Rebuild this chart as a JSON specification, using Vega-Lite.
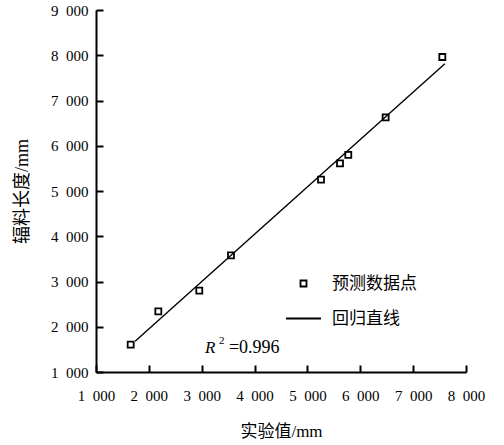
{
  "$schema": "https://vega.github.io/schema/vega-lite/v6.json",
  "width": 370,
  "height": 362,
  "autosize": {"type": "none"},
  "padding": {"left": 96, "top": 10, "right": 38, "bottom": 73},
  "background": "white",
  "config": {
    "view": {"stroke": null},
    "font": "Liberation Serif, Noto Sans CJK SC",
    "axis": {
      "grid": false,
      "domainColor": "black",
      "domainWidth": 2,
      "tickColor": "black",
      "tickWidth": 2,
      "tickSize": -7,
      "labelColor": "black",
      "labelFont": "Liberation Serif",
      "labelFontSize": 15,
      "labelFlush": false,
      "labelOverlap": false,
      "titleColor": "black",
      "titleFontWeight": "normal",
      "titleFontSize": 17,
      "titleFont": "Liberation Serif, Noto Sans CJK SC"
    },
    "legend": {
      "labelFont": "Liberation Serif, Noto Sans CJK SC",
      "labelFontSize": 17,
      "labelColor": "black",
      "padding": 0,
      "rowPadding": 8,
      "labelOffset": 10,
      "symbolStrokeWidth": 1.8,
      "symbolStrokeColor": "black"
    }
  },
  "datasets": {
    "points": [
      {"x": 1656, "y": 1603, "series": "预测数据点"},
      {"x": 2179, "y": 2340, "series": "预测数据点"},
      {"x": 2954, "y": 2800, "series": "预测数据点"},
      {"x": 3554, "y": 3577, "series": "预测数据点"},
      {"x": 5257, "y": 5250, "series": "预测数据点"},
      {"x": 5616, "y": 5610, "series": "预测数据点"},
      {"x": 5773, "y": 5800, "series": "预测数据点"},
      {"x": 6480, "y": 6627, "series": "预测数据点"},
      {"x": 7552, "y": 7961, "series": "预测数据点"}
    ],
    "fit": [
      {"x": 1740, "y": 1680},
      {"x": 7600, "y": 7810}
    ],
    "note": [
      {"x": 3060, "y": 1540, "r": "R", "sup": "2", "rest": "=0.996"}
    ]
  },
  "layer": [
    {
      "data": {"name": "fit"},
      "mark": {"type": "line", "color": "black", "strokeWidth": 1.4},
      "encoding": {
        "x": {
          "field": "x", "type": "quantitative",
          "scale": {"domain": [1000, 8000], "nice": false, "zero": false},
          "axis": {
            "title": "实验值/mm",
            "values": [1000, 2000, 3000, 4000, 5000, 6000, 7000, 8000],
            "labelExpr": "floor(datum.value/1000) + '\u2002000'",
            "labelPadding": 23,
            "titlePadding": 20
          }
        },
        "y": {
          "field": "y", "type": "quantitative",
          "scale": {"domain": [1000, 9000], "nice": false, "zero": false},
          "axis": {
            "title": "辐料长度/mm",
            "values": [1000, 2000, 3000, 4000, 5000, 6000, 7000, 8000, 9000],
            "labelExpr": "floor(datum.value/1000) + '\u2002000'",
            "labelPadding": 15,
            "titlePadding": 19,
            "titleFontSize": 18
          }
        }
      }
    },
    {
      "data": {"name": "points"},
      "mark": {"type": "point", "shape": "square", "filled": false, "color": "black", "strokeWidth": 1.8, "opacity": 1},
      "encoding": {
        "x": {"field": "x", "type": "quantitative"},
        "y": {"field": "y", "type": "quantitative"},
        "shape": {
          "field": "series", "type": "nominal",
          "scale": {"domain": ["预测数据点", "回归直线"], "range": ["square", "stroke"]},
          "legend": {"title": null, "orient": "none", "legendX": 189, "legendY": 265}
        },
        "size": {
          "field": "series", "type": "nominal",
          "scale": {"type": "ordinal", "domain": ["预测数据点", "回归直线"], "range": [36, 1225]},
          "legend": {"title": null, "orient": "none", "legendX": 189, "legendY": 265}
        }
      }
    },
    {
      "data": {"name": "note"},
      "mark": {"type": "text", "align": "left", "baseline": "middle", "fontSize": 17, "fontStyle": "italic", "font": "Liberation Serif", "color": "black"},
      "encoding": {
        "x": {"field": "x", "type": "quantitative"},
        "y": {"field": "y", "type": "quantitative"},
        "text": {"field": "r"}
      }
    },
    {
      "data": {"name": "note"},
      "mark": {"type": "text", "align": "left", "baseline": "middle", "fontSize": 11, "dx": 14, "dy": -7, "font": "Liberation Serif", "color": "black"},
      "encoding": {
        "x": {"field": "x", "type": "quantitative"},
        "y": {"field": "y", "type": "quantitative"},
        "text": {"field": "sup"}
      }
    },
    {
      "data": {"name": "note"},
      "mark": {"type": "text", "align": "left", "baseline": "middle", "fontSize": 18, "dx": 24, "font": "Liberation Serif", "color": "black"},
      "encoding": {
        "x": {"field": "x", "type": "quantitative"},
        "y": {"field": "y", "type": "quantitative"},
        "text": {"field": "rest"}
      }
    }
  ]
}
